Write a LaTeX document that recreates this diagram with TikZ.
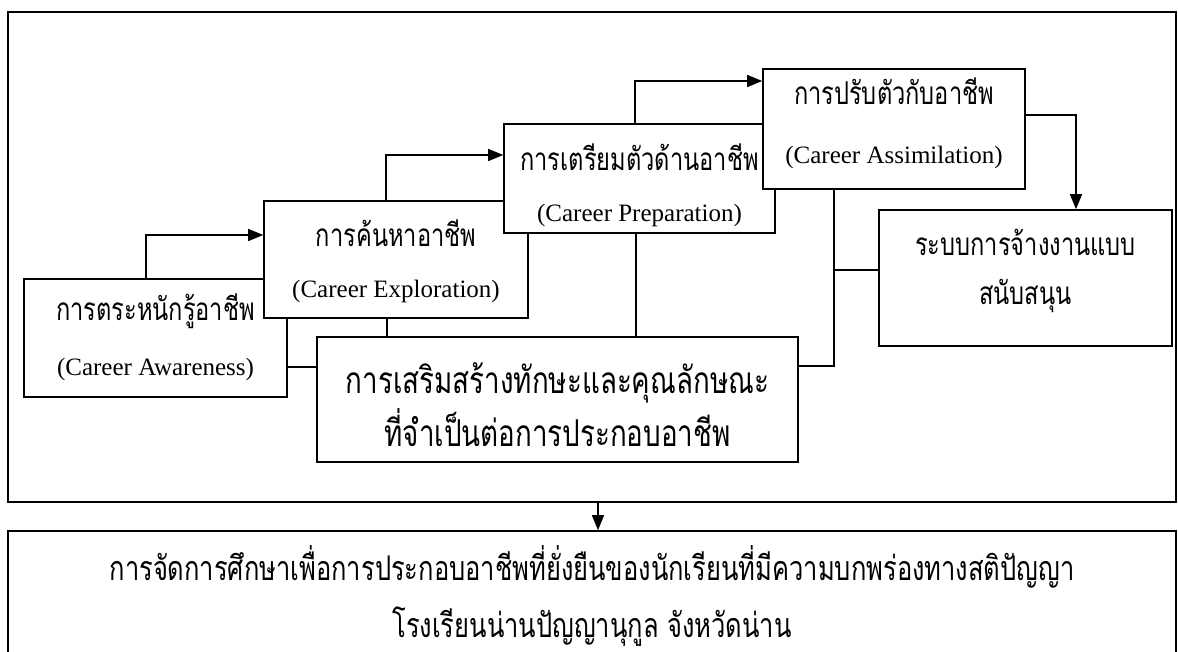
\documentclass[tikz,border=0pt]{standalone}
\usepackage{fontspec}
\setmainfont{Liberation Serif}
\newfontfamily\thaifont[Script=Thai,FakeStretch=0.75]{Loma}
\usetikzlibrary{arrows.meta}
\begin{document}
\begin{tikzpicture}[x=1pt,y=-1pt,
  box/.style={draw,line width=1.6pt,fill=white,inner sep=0pt,rectangle},
  conn/.style={line width=1.5pt},
  arr/.style={conn,-{Triangle[length=15pt,width=12pt]}},
  th/.style={font=\thaifont\fontsize{31.5}{34}\selectfont,anchor=base,inner sep=0pt},
  thL/.style={font=\thaifont\fontsize{37}{40}\selectfont,anchor=base,inner sep=0pt},
  thG/.style={font=\thaifont\fontsize{34}{36}\selectfont,anchor=base,inner sep=0pt},
  en/.style={font=\fontsize{25}{28}\selectfont,anchor=base,inner sep=0pt}]
\useasboundingbox (0,0) rectangle (1178,651);
\clip (0,0) rectangle (1178,651);
% boxes
\node[box,fill=none,minimum width=1168pt,minimum height=490pt] (frame) at (592,257) {};
\node[box,minimum width=263pt,minimum height=118pt] (aw) at (155.5,338) {};
\node[box,minimum width=264pt,minimum height=117pt] (ex) at (396,259.5) {};
\node[box,minimum width=271pt,minimum height=109pt] (pr) at (639.5,178.5) {};
\node[box,minimum width=262pt,minimum height=120pt] (as) at (894,129) {};
\node[box,minimum width=293pt,minimum height=136pt] (em) at (1025.5,278) {};
\node[box,minimum width=481pt,minimum height=125pt] (sk) at (557.5,399.5) {};
\node[box,minimum width=1168pt,minimum height=160pt] (goal) at (592,611) {};
% texts
\node[th] (awT) at (155.5,320) {การตระหนักรู้อาชีพ};
\node[en] (awE) at (155.5,375) {(Career Awareness)};
\node[th] (exT) at (396,246) {การค้นหาอาชีพ};
\node[en] (exE) at (396,297) {(Career Exploration)};
\node[th] (prT) at (639.5,170) {การเตรียมตัวด้านอาชีพ};
\node[en] (prE) at (639.5,221) {(Career Preparation)};
\node[th] (asT) at (894,104) {การปรับตัวกับอาชีพ};
\node[en] (asE) at (894,163) {(Career Assimilation)};
\node[th] (emT1) at (1025.5,255) {ระบบการจ้างงานแบบ};
\node[th] (emT2) at (1025.5,304) {สนับสนุน};
\node[thL] (skT1) at (557.5,393) {การเสริมสร้างทักษะและคุณลักษณะ};
\node[thL] (skT2) at (557.5,446) {ที่จำเป็นต่อการประกอบอาชีพ};
\node[thG] (goT1) at (592,580) {การจัดการศึกษาเพื่อการประกอบอาชีพที่ยั่งยืนของนักเรียนที่มีความบกพร่องทางสติปัญญา};
\node[thG] (goT2) at (592,637) {โรงเรียนน่านปัญญานุกูล จังหวัดน่าน};
% arrows
\draw[arr] ([xshift=123pt]aw.north west) |- ([yshift=24.5pt]ex.west);
\draw[arr] ([xshift=123pt]ex.north west) |- ([yshift=23.5pt]pr.west);
\draw[arr] ([xshift=132pt]pr.north west) |- ([yshift=48pt]as.west);
\draw[arr] ([yshift=14pt]as.east) -| ([xshift=50.5pt]em.north);
% plain connectors
\coordinate (c1) at ([xshift=-9pt]ex.south);
\draw[conn] (c1) -- (c1 |- sk.north);
\coordinate (c2) at ([yshift=-29pt]aw.east);
\draw[conn] (c2) -- (c2 -| sk.west);
\coordinate (c3) at ([xshift=-3.5pt]pr.south);
\draw[conn] (c3) -- (c3 |- sk.north);
\coordinate (c4) at ([xshift=-60pt]as.south);
\draw[conn] (c4) |- ([yshift=33.5pt]sk.east);
\coordinate (c5) at ([yshift=8pt]em.west);
\draw[conn] (c5) -- (c5 -| c4);
\coordinate (c6) at ([xshift=6pt]frame.south);
\draw[arr] (c6) -- (c6 |- goal.north);
\end{tikzpicture}
\end{document}
